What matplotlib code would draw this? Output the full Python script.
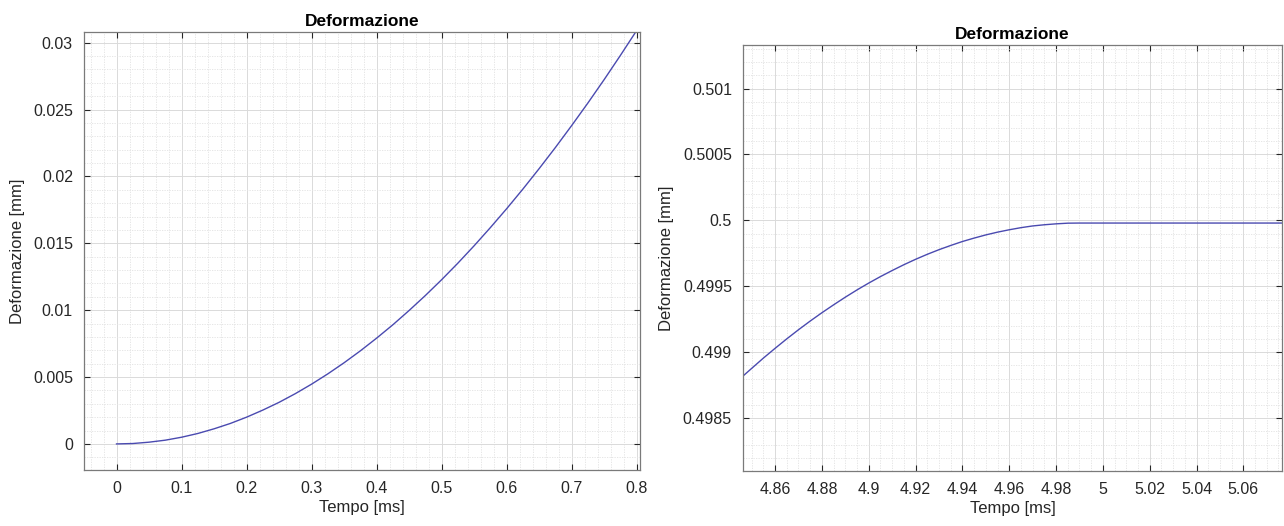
import matplotlib
matplotlib.use("Agg")
import matplotlib.pyplot as plt
from matplotlib.ticker import MultipleLocator, FuncFormatter

# --- dati ---
t_sx = [0.0, 0.025, 0.05, 0.075, 0.10, 0.125, 0.15, 0.175, 0.20, 0.225, 0.25,
        0.275, 0.30, 0.325, 0.35, 0.375, 0.40, 0.425, 0.45, 0.475, 0.50,
        0.525, 0.55, 0.575, 0.60, 0.625, 0.65, 0.675, 0.70, 0.725, 0.75,
        0.775, 0.80]
def_sx = [0.0, 0.00003, 0.00013, 0.00028, 0.00050, 0.00078, 0.00113, 0.00153,
          0.00200, 0.00253, 0.00311, 0.00376, 0.00447, 0.00524, 0.00607,
          0.00696, 0.00791, 0.00891, 0.00998, 0.01110, 0.01228, 0.01352,
          0.01482, 0.01618, 0.01759, 0.01906, 0.02059, 0.02217, 0.02381,
          0.02550, 0.02725, 0.02906, 0.03092]

t_dx = [4.8463, 4.85, 4.855, 4.86, 4.865, 4.87, 4.875, 4.88, 4.885, 4.89,
        4.895, 4.90, 4.905, 4.91, 4.915, 4.92, 4.925, 4.93, 4.935, 4.94,
        4.945, 4.95, 4.955, 4.96, 4.965, 4.97, 4.975, 4.98, 4.985, 4.99,
        5.00, 5.04, 5.08]
def_dx = [0.498820, 0.498878, 0.498956, 0.499030, 0.499102, 0.499171, 0.499237,
          0.499300, 0.499360, 0.499418, 0.499473, 0.499525, 0.499574, 0.499620,
          0.499664, 0.499705, 0.499743, 0.499778, 0.499810, 0.499840, 0.499866,
          0.499890, 0.499911, 0.499929, 0.499945, 0.499958, 0.499967, 0.499974,
          0.499979, 0.499980, 0.499980, 0.499980, 0.499980]

xticks_sx = [0, 0.1, 0.2, 0.3, 0.4, 0.5, 0.6, 0.7, 0.8]
yticks_sx = [0, 0.005, 0.01, 0.015, 0.02, 0.025, 0.03]
xticks_dx = [4.86, 4.88, 4.9, 4.92, 4.94, 4.96, 4.98, 5.0, 5.02, 5.04, 5.06]
yticks_dx = [0.4985, 0.499, 0.4995, 0.5, 0.5005, 0.501]

plt.rcParams['font.family'] = ['Liberation Sans', 'DejaVu Sans']
testo = '#262626'
W, H = 1284, 526
fig = plt.figure(figsize=(W / 100, H / 100), dpi=100)

def stile(ax, xminor, yminor):
    ax.xaxis.set_minor_locator(MultipleLocator(xminor))
    ax.yaxis.set_minor_locator(MultipleLocator(yminor))
    ax.grid(which='major', color='#dadada', linewidth=0.7, linestyle='-')
    ax.grid(which='minor', color='#e2e2e2', linewidth=0.6, linestyle=(0, (1.5, 1.5)))
    ax.set_axisbelow(True)
    ax.tick_params(which='major', direction='in', length=4, width=0.8,
                   top=True, right=True, labelsize=11.5, colors=testo, pad=8)
    ax.tick_params(which='minor', length=0, top=True, right=True)
    for s in ax.spines.values():
        s.set_color('#7a7a7a')
        s.set_linewidth(0.9)
    fmt = FuncFormatter(lambda v, p: '%g' % round(v, 6))
    ax.xaxis.set_major_formatter(fmt)
    ax.yaxis.set_major_formatter(fmt)
    ax.set_title('Deformazione', fontsize=12.5, fontweight='bold', color='black', pad=4)
    ax.set_xlabel('Tempo [ms]', fontsize=12, color=testo, labelpad=3)
    ax.set_ylabel('Deformazione [mm]', fontsize=12, color=testo, labelpad=6)

# sinistra
ax1 = fig.add_axes([84 / W, (H - 470) / H, (640 - 84) / W, (470 - 32) / H])
ax1.plot(t_sx, def_sx, color='#4a4ab0', linewidth=1.0)
ax1.set_xlim(-0.05, 0.805)
ax1.set_ylim(-0.00195, 0.0308)
ax1.set_xticks(xticks_sx)
ax1.set_yticks(yticks_sx)
stile(ax1, 0.02, 0.001)

# destra
ax2 = fig.add_axes([743 / W, (H - 471) / H, (1282 - 743) / W, (471 - 45) / H])
ax2.plot(t_dx, def_dx, color='#4a4ab0', linewidth=1.0)
ax2.set_xlim(4.8463, 5.0765)
ax2.set_ylim(0.4981, 0.50133)
ax2.set_xticks(xticks_dx)
ax2.set_yticks(yticks_dx)
stile(ax2, 0.005, 0.0001)

fig.savefig('out.png', dpi=100)
